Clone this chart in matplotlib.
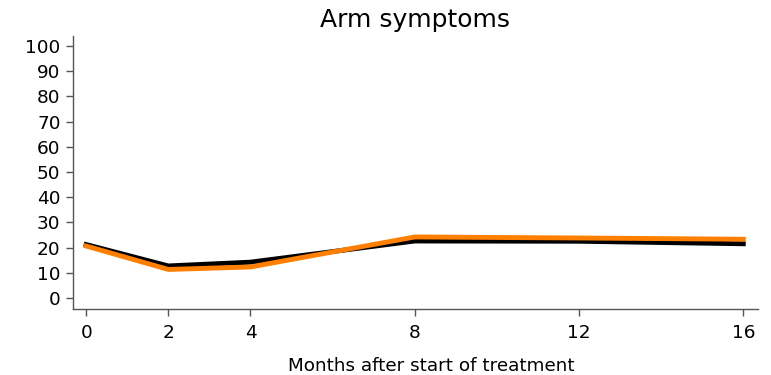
import matplotlib
matplotlib.use("Agg")
import matplotlib.pyplot as plt

plt.rcParams['font.family'] = ['DejaVu Sans']

months = [0, 2, 4, 8, 12, 16]
group_black = [21.2, 12.7, 14.2, 22.6, 22.5, 21.5]
group_orange = [20.6, 11.3, 12.3, 24.2, 23.8, 23.3]
yticks = [0, 10, 20, 30, 40, 50, 60, 70, 80, 90, 100]
title = "Arm symptoms"
xlabel = "Months after start of treatment"

fig = plt.figure(figsize=(7.71, 3.75), dpi=100)
ax = fig.add_axes([0.0947, 0.176, 0.888, 0.728])

ax.plot(months, group_black, color='black', lw=3.5, solid_joinstyle='miter', zorder=2)
ax.plot(months, group_orange, color='#FF8000', lw=3.5, solid_joinstyle='miter', zorder=3)

ax.set_xlim(-0.32, 16.35)
ax.set_ylim(-4.4, 104)
ax.set_xticks(months)
ax.set_xticklabels([str(m) for m in months])
ax.set_yticks(yticks)
ax.set_yticklabels([str(v) for v in yticks])

for s in ['top', 'right']:
    ax.spines[s].set_visible(False)
for s in ['left', 'bottom']:
    ax.spines[s].set_color('#555555')
    ax.spines[s].set_linewidth(1.0)
ax.tick_params(axis='both', direction='out', length=5, width=1, color='#555555',
               labelsize=13.3, pad=4)
ax.tick_params(axis='x', pad=6)

ax.set_title(title, fontsize=18, pad=6.5)
ax.set_xlabel(xlabel, fontsize=13.2)
ax.xaxis.set_label_coords(0.523, -0.175)

fig.savefig("out.png", dpi=100)
